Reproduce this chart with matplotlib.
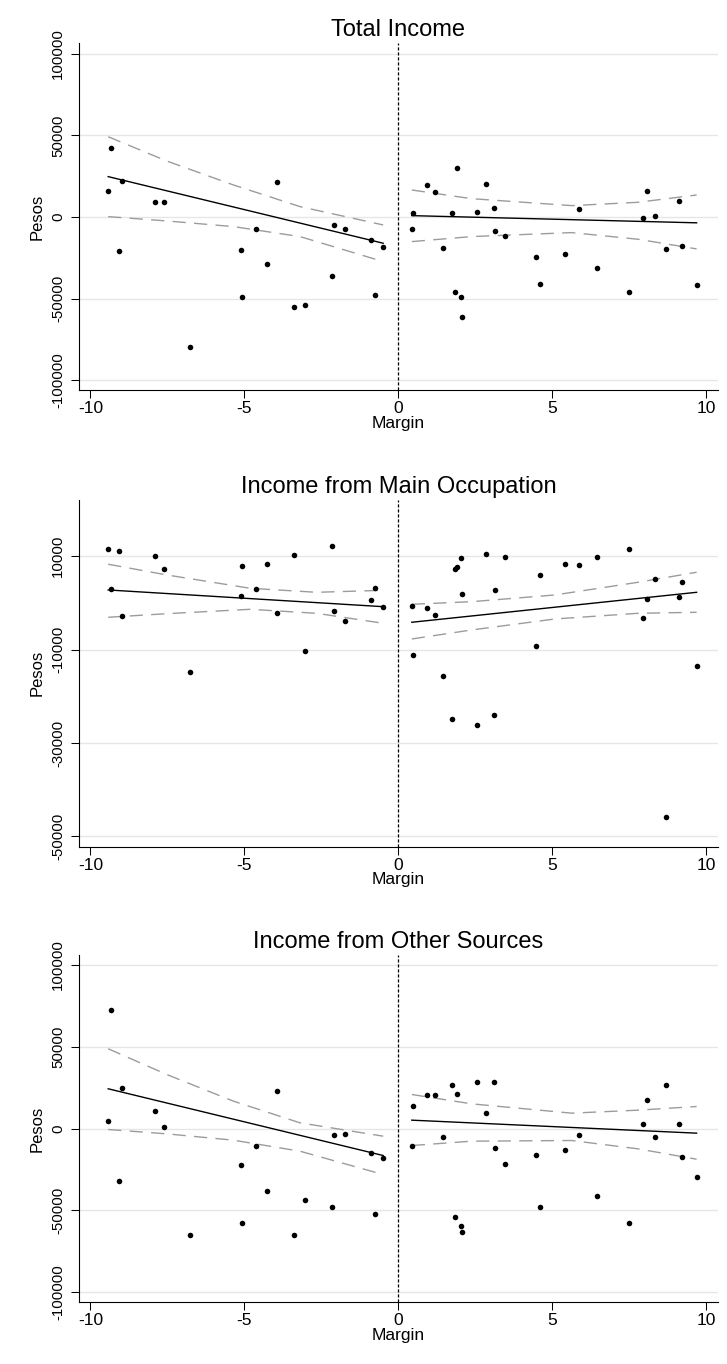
import matplotlib
matplotlib.use("Agg")
import matplotlib.pyplot as plt

plt.rcParams['font.family'] = ['Liberation Sans', 'DejaVu Sans']
plt.rcParams['axes.unicode_minus'] = False

# vote margin of each bin, left and right of the cutoff
margin_left = [-9.42, -9.34, -9.07, -8.96, -7.91, -7.60, -6.76, -5.11, -5.06, -4.63,
               -4.27, -3.94, -3.40, -3.02, -2.15, -2.09, -1.74, -0.88, -0.77, -0.49]
margin_right = [0.44, 0.49, 0.94, 1.18, 1.44, 1.76, 1.84, 1.90, 2.05, 2.07,
                2.56, 2.84, 3.10, 3.14, 3.46, 4.49, 4.60, 5.40, 5.87, 6.45,
                7.51, 7.94, 8.08, 8.35, 8.71, 9.13, 9.22, 9.69]

# binned means (pesos)
total_left = [16100, 42200, -20800, 22200, 9000, 9000, -79600, -20200, -49000, -7300,
              -29000, 21600, -54900, -53900, -35900, -5100, -7100, -13900, -47800, -18600]
total_right = [-7300, 2400, 19600, 15500, -19000, 2200, -45700, 29800, -49200, -61000,
               3300, 20000, 5300, -8800, -11600, -24700, -41200, -22900, 5100, -31200,
               -45900, -400, 15900, 400, -19400, 9600, -17800, -42000]
main_left = [11500, 3000, 11140, -2790, 10000, 7360, -14860, 1570, 7930, 3000,
             8430, -2140, 10290, -10210, 12210, -1790, -3930, 710, 3140, -860]
main_right = [-640, -11070, -1000, -2570, -15640, -24860, 7360, 7790, 9570, 1860,
              -26140, 10500, -23930, 2860, 9790, -9140, 5930, 8290, 8140, 9930,
              11500, -3290, 790, 5210, -45930, 1360, 4500, -13570]
other_left = [4490, 72400, -32000, 24900, 10600, 1220, -65000, -22200, -57700, -10800,
              -37900, 23200, -65200, -44000, -48100, -3870, -3470, -14900, -52200, -17900]
other_right = [-10400, 13700, 20200, 20600, -5300, 26700, -53800, 21200, -59300, -63400,
               28500, 9200, 28700, -12000, -21800, -15900, -48100, -13000, -3700, -41400,
               -57700, 2650, 17500, -5300, 26300, 2850, -17700, -29400]

# linear fit (end points) and 95% CI
fit_x_left = [-9.42, -0.49]
fit_x_right = [0.44, 9.69]
total_fit_left = [24700, -16100]
total_fit_right = [800, -3600]
main_fit_left = [2780, -800]
main_fit_right = [-4140, 2280]
other_fit_left = [24280, -16510]
other_fit_right = [5100, -2850]

ci_x_left = [-9.42, -7.52, -5.35, -3.19, -0.49]
ci_x_right = [0.44, 2.38, 5.63, 7.79, 9.69]
main_ci_x_left = [-9.42, -7.52, -4.81, -2.65, -0.49]
main_ci_x_right = [0.44, 2.38, 5.09, 7.79, 9.69]

total_ci_hi_left = [49150, 34270, 19580, 6320, -4900]
total_ci_lo_left = [200, -2450, -5920, -12040, -27330]
total_ci_hi_right = [16520, 11200, 6940, 8970, 13460]
total_ci_lo_right = [-15100, -12040, -9590, -13670, -19580]
main_ci_hi_left = [8290, 6000, 3140, 2280, 2710]
main_ci_lo_left = [-3070, -2300, -1360, -2220, -4360]
main_ci_hi_right = [-290, 270, 1710, 4430, 6570]
main_ci_lo_right = [-7720, -5790, -3430, -2220, -2000]
other_ci_hi_left = [48740, 33030, 16700, 3470, -4690]
other_ci_lo_left = [-610, -3260, -7140, -13870, -28130]
other_ci_hi_right = [20790, 15080, 9380, 11210, 13450]
other_ci_lo_right = [-10400, -7750, -7340, -12440, -18770]

titles = ["Total Income", "Income from Main Occupation", "Income from Other Sources"]
yticks_wide = [-100000, -50000, 0, 50000, 100000]
yticks_main = [-50000, -30000, -10000, 10000]

panels = [
    dict(title=titles[0], yl=total_left, yr=total_right,
         fl=total_fit_left, fr=total_fit_right,
         cxl=ci_x_left, cxr=ci_x_right,
         hil=total_ci_hi_left, lol=total_ci_lo_left,
         hir=total_ci_hi_right, lor=total_ci_lo_right,
         yticks=yticks_wide, ylim=(-106000, 106500), bottom=0.7141),
    dict(title=titles[1], yl=main_left, yr=main_right,
         fl=main_fit_left, fr=main_fit_right,
         cxl=main_ci_x_left, cxr=main_ci_x_right,
         hil=main_ci_hi_left, lol=main_ci_lo_left,
         hir=main_ci_hi_right, lor=main_ci_lo_right,
         yticks=yticks_main, ylim=(-52200, 22100), bottom=0.3793),
    dict(title=titles[2], yl=other_left, yr=other_right,
         fl=other_fit_left, fr=other_fit_right,
         cxl=ci_x_left, cxr=ci_x_right,
         hil=other_ci_hi_left, lol=other_ci_lo_left,
         hir=other_ci_hi_right, lor=other_ci_lo_right,
         yticks=yticks_wide, ylim=(-106000, 106000), bottom=0.0455),
]

CI_COLOR = '#9c9c9c'
CI_STYLE = (0, (9.5, 6))

fig = plt.figure(figsize=(7.27, 13.64), dpi=100)

for p in panels:
    ax = fig.add_axes([0.109, p['bottom'], 0.878, 0.2543])

    for y in p['yticks']:
        ax.axhline(y, color='#e6e6e6', lw=1.0, zorder=0)

    # confidence bands
    ax.plot(p['cxl'], p['hil'], color=CI_COLOR, lw=1.0, ls=CI_STYLE, zorder=2)
    ax.plot(p['cxl'], p['lol'], color=CI_COLOR, lw=1.0, ls=CI_STYLE, zorder=2)
    ax.plot(p['cxr'], p['hir'], color=CI_COLOR, lw=1.0, ls=CI_STYLE, zorder=2)
    ax.plot(p['cxr'], p['lor'], color=CI_COLOR, lw=1.0, ls=CI_STYLE, zorder=2)

    # fitted lines
    ax.plot(fit_x_left, p['fl'], color='black', lw=1.0, zorder=3)
    ax.plot(fit_x_right, p['fr'], color='black', lw=1.0, zorder=3)

    # bin means
    ax.plot(margin_left, p['yl'], 'o', color='black', ms=4, mec='none', zorder=4)
    ax.plot(margin_right, p['yr'], 'o', color='black', ms=4, mec='none', zorder=4)

    ax.axvline(0, color='black', lw=0.9, ls=(0, (2.5, 1.5)), zorder=5)

    ax.set_xlim(-10.36, 10.37)
    ax.set_ylim(*p['ylim'])
    ax.set_xticks([-10, -5, 0, 5, 10])
    ax.set_yticks(p['yticks'])
    ax.set_yticklabels([str(v) for v in p['yticks']], rotation=90, va='center', fontsize=10.8)
    ax.tick_params(axis='x', labelsize=12.5, length=5.8, width=0.75, pad=2.5)
    ax.tick_params(axis='y', length=5.8, width=0.75, pad=4.5)

    for side in ('top', 'right'):
        ax.spines[side].set_visible(False)
    for side in ('left', 'bottom'):
        ax.spines[side].set_linewidth(0.8)

    ax.set_title(p['title'], fontsize=17, pad=5)
    ax.set_xlabel('Margin', fontsize=12.5)
    ax.xaxis.set_label_coords(0.5, -0.074)
    ax.set_ylabel('Pesos', fontsize=12)
    ax.yaxis.set_label_coords(-0.0548, 0.5)

fig.savefig('out.png', dpi=100, facecolor='white')
